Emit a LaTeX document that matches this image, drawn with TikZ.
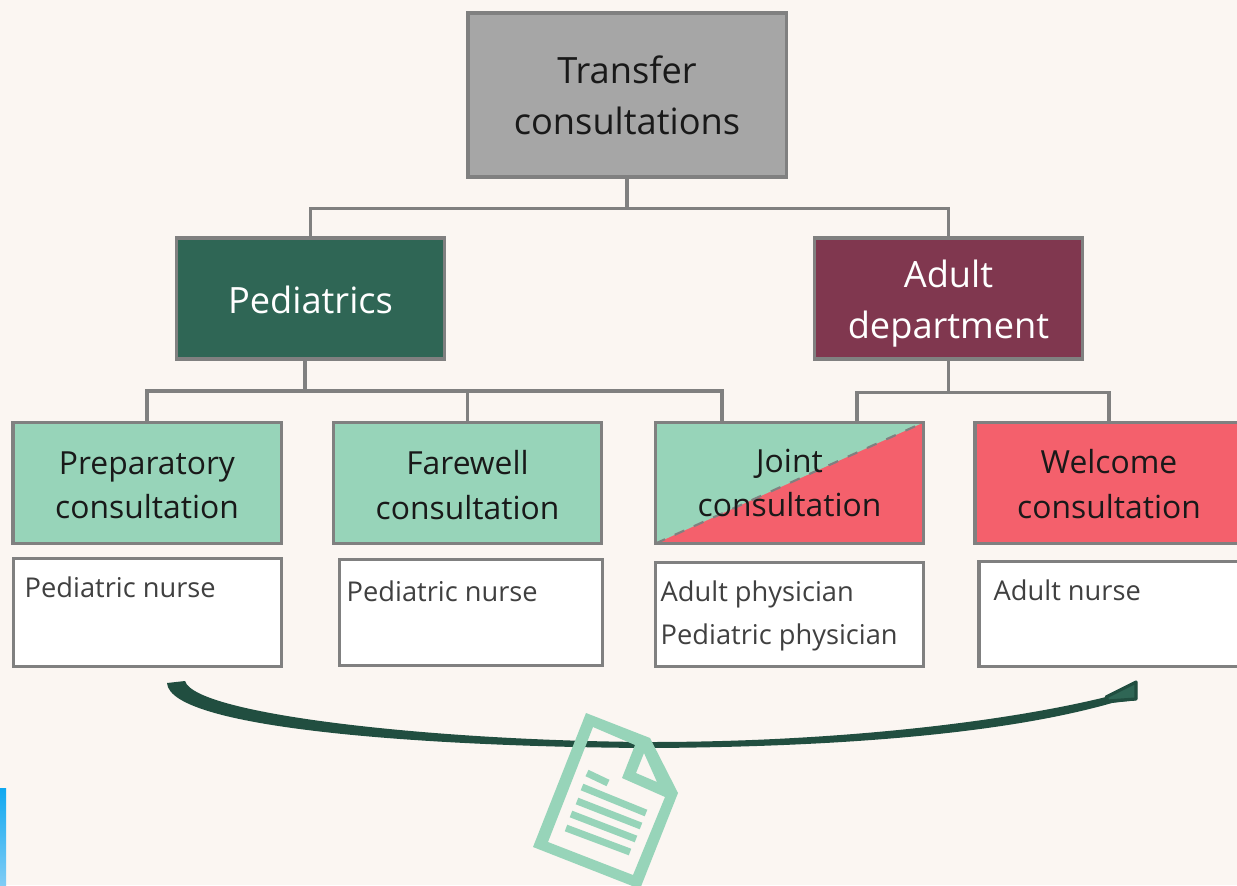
\documentclass[tikz,border=0pt]{standalone}
\usepackage{fontspec}
\setmainfont{Open Sans}
\definecolor{paper}{HTML}{FBF6F2}
\definecolor{edge}{HTML}{808080}
\definecolor{mint}{HTML}{97D4B9}
\definecolor{rose}{HTML}{F4606C}
\definecolor{pine}{HTML}{2F6655}
\definecolor{wine}{HTML}{80374F}
\definecolor{stone}{HTML}{A6A6A6}
\definecolor{arcdark}{HTML}{214E40}
\definecolor{striptop}{HTML}{10A8F0}
\definecolor{stripend}{HTML}{80CCF5}
\tikzset{
	box/.style={draw=edge, line width=0.9pt, inner sep=0pt, align=center, minimum width=2.68cm, minimum height=1.21cm, text=black!90, font=\fontsize{9.05}{12.6}\selectfont},
	bigbox/.style={box, font=\fontsize{10.3}{14.4}\selectfont, text=white},
	staff/.style={draw=edge, line width=0.9pt, fill=white, inner sep=0pt},
	stafftext/.style={anchor=base west, inner sep=0pt, text=black!75, font=\fontsize{7.75}{10}\selectfont},
	link/.style={draw=edge, line width=0.9pt},
}

\begin{document}
\begin{tikzpicture}[x=0.01cm, y=-0.01cm]
	\clip (0, 0) rectangle (1237, 885);
	\fill[paper] (0, 0) rectangle (1237, 885);
	\shade[top color=striptop, bottom color=stripend] (0, 788) rectangle (6, 885);

	\node[box, fill=stone, font=\fontsize{10.3}{14.4}\selectfont, minimum width=3.18cm, minimum height=1.64cm] (transfer) at (627, 95) {Transfer\\consultations};
	\node[bigbox, fill=pine] (pediatrics) at (310.5, 298.5) {\raisebox{-0.01cm}[\height][\depth]{Pediatrics}};
	\node[bigbox, fill=wine] (adult) at (948.5, 298.5) {\raisebox{-0.05cm}[\height][\depth]{Adult}\\\raisebox{-0.05cm}[\height][\depth]{department}};
	\node[box, fill=mint] (preparatory) at (147, 483) {\raisebox{-0.02cm}[\height][\depth]{Preparatory}\\\raisebox{-0.02cm}[\height][\depth]{consultation}};
	\node[box, fill=mint] (farewell) at (467.5, 483) {\raisebox{-0.02cm}[\height][\depth]{Farewell}\\\raisebox{-0.02cm}[\height][\depth]{consultation}};
	\node[box, fill=rose, path picture={
		\fill[mint] (path picture bounding box.south west) -- (path picture bounding box.north west) -- (path picture bounding box.north east) -- cycle;
		\draw[edge, dashed, line width=0.6pt] (path picture bounding box.south west) -- (path picture bounding box.north east);
	}] (joint) at (789.5, 483) {Joint\\consultation};
	\node[box, fill=rose] (welcome) at (1109, 483) {\raisebox{-0.01cm}[\height][\depth]{Welcome}\\\raisebox{-0.01cm}[\height][\depth]{consultation}};

	\node[staff, minimum width=2.68cm, minimum height=1.08cm] (prepstaff) at (147.5, 612.5) {};
	\node[staff, minimum width=2.63cm, minimum height=1.06cm] (farestaff) at (471, 612.5) {};
	\node[staff, minimum width=2.68cm, minimum height=1.04cm] (jointstaff) at (789.5, 614.5) {};
	\node[staff, minimum width=2.68cm, minimum height=1.05cm] (welcstaff) at (1113, 614) {};
	\node[stafftext] (preptext) at (24, 597) {Pediatric nurse};
	\node[stafftext] (faretext) at (346, 601) {Pediatric nurse};
	\node[stafftext] (adulttext) at (660, 601) {Adult physician};
	\node[stafftext] (pedtext) at (660, 644) {Pediatric physician};
	\node[stafftext] (welctext) at (993, 600) {Adult nurse};

	\coordinate (pedout) at (305, 359);
	\coordinate (jointin) at (722, 422);
	\coordinate (adultjoint) at (857, 422);
	\draw[link] (transfer.south) -- ++(0, 30) -| (pediatrics.north);
	\draw[link] (transfer.south) -- ++(0, 30) -| (adult.north);
	\draw[link] (pedout) -- ++(0, 32) -| (preparatory.north);
	\draw[link] (pedout) -- ++(0, 32) -| (farewell.north);
	\draw[link] (pedout) -- ++(0, 32) -| (jointin);
	\draw[link] (adult.south) -- ++(0, 32) -| (adultjoint);
	\draw[link] (adult.south) -- ++(0, 32) -| (welcome.north);

	\coordinate (arcstart) at (167, 683);
	\coordinate (arcend) at (1137, 700);
	\fill[arcdark, line join=round] (arcstart) -- (185, 681) .. controls (195, 715) and (440, 741) .. (650, 742) .. controls (830, 742) and (1000, 723) .. (1106, 697) -- (1137, 681) -- (arcend) -- (1112, 703) .. controls (1000, 735) and (830, 747) .. (650, 748) .. controls (440, 747) and (170, 730) .. (arcstart) -- cycle;
	\draw[arcdark, line width=0.9pt, line join=round, fill=pine] (1106, 697) -- (1136, 682) -- (1136, 699) -- (1108, 701) -- cycle;

	\fill[mint, even odd rule] (586, 713) -- (650, 738) -- (678, 793) -- (640, 889) -- (533, 847) -- cycle
		(593, 727) -- (635, 745) -- (622, 778) -- (665, 797) -- (633, 875) -- (548, 842) -- cycle
		(644, 753) -- (636, 773) -- (657, 782) -- cycle;
	\draw[mint, line width=2pt] (587, 773) -- (608, 783);
	\draw[mint, line width=2pt] (582, 787) -- (646, 813);
	\draw[mint, line width=2pt] (577, 801) -- (641, 826);
	\draw[mint, line width=2pt] (571, 814) -- (636, 839);
	\draw[mint, line width=2pt] (566, 828) -- (630, 852);
\end{tikzpicture}
\end{document}
